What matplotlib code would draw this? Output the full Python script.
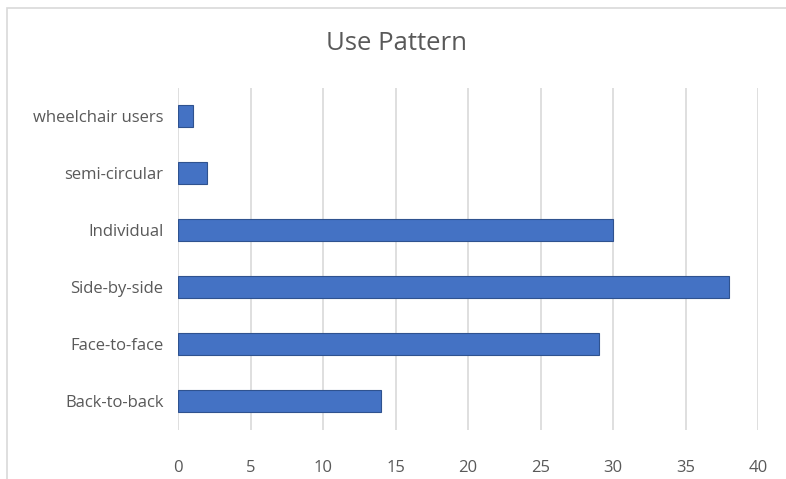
import matplotlib.pyplot as plt
from matplotlib.patches import Rectangle

categories = ["Back-to-back", "Face-to-face", "Side-by-side", "Individual", "semi-circular", "wheelchair users"]
values = [14, 29, 38, 30, 2, 1]
xticks = [0, 5, 10, 15, 20, 25, 30, 35, 40]

plt.rcParams['font.family'] = ['Open Sans', 'DejaVu Sans']
text_color = '#595959'

fig = plt.figure(figsize=(7.86, 4.79), dpi=100)
fig.patches.append(Rectangle((7/786, -0.1), 1.2, 1 - 8/479 + 0.1, transform=fig.transFigure,
                             fill=False, edgecolor='#d9d9d9', linewidth=1.2))
ax = fig.add_axes([178/786, 1 - 429.5/479, (758 - 178)/786, (429.5 - 87.5)/479])
ax.barh(range(len(categories)), values, height=0.4, color='#4472C4', edgecolor='#2F528F', linewidth=0.8, zorder=3)
ax.set_xlim(0, 40)
ax.set_ylim(-0.5, len(categories) - 0.5)
ax.set_xticks(xticks)
ax.set_xticklabels([str(t) for t in xticks])
ax.set_yticks(range(len(categories)))
ax.set_yticklabels(categories)
ax.grid(axis='x', color='#d9d9d9', linewidth=1.2, zorder=0)
for s in ax.spines.values():
    s.set_visible(False)
ax.tick_params(axis='both', length=0, colors=text_color, labelsize=12)
ax.tick_params(axis='x', pad=22)
ax.tick_params(axis='y', pad=10.5)
fig.text(0.5 * (7 + 786) / 786, 1 - 43/479, "Use Pattern", ha='center', va='center', fontsize=18.5, color=text_color)
fig.savefig('out.png', dpi=100)
